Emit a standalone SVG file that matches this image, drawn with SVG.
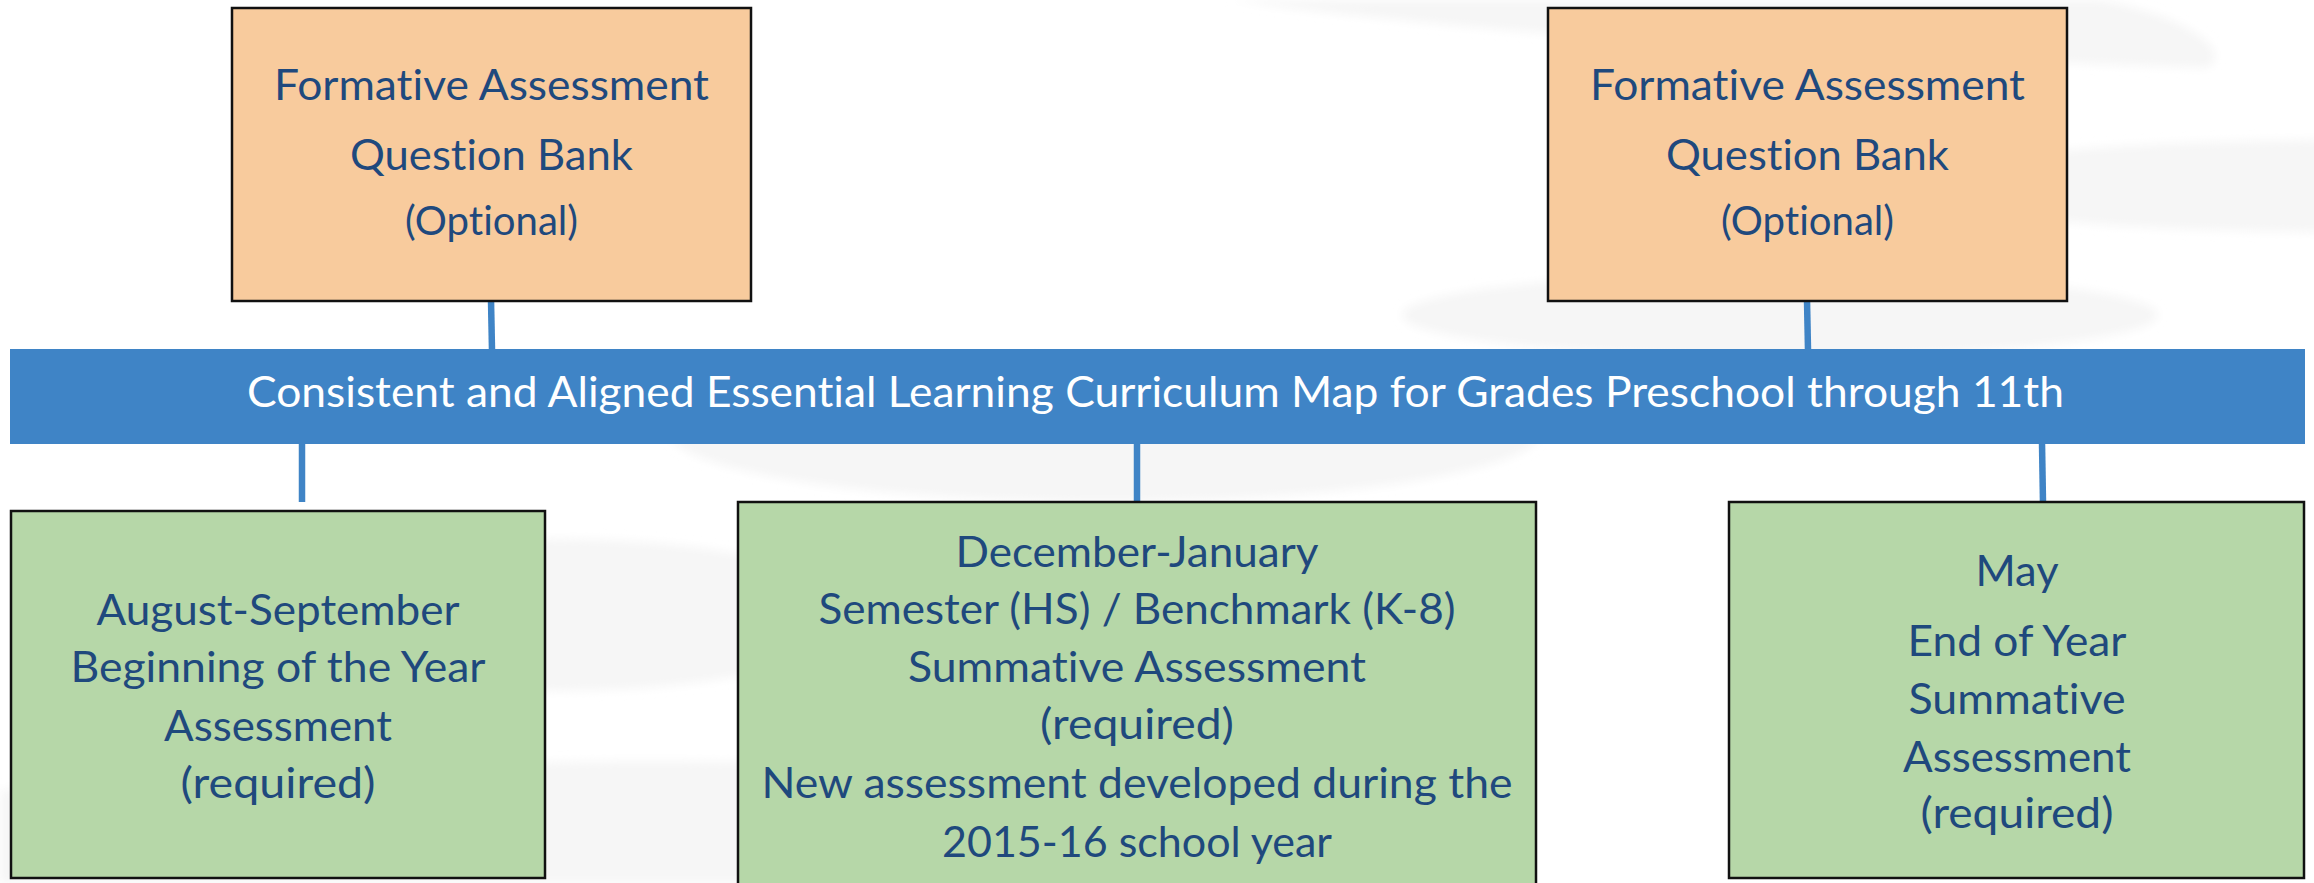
<svg xmlns="http://www.w3.org/2000/svg" width="2314" height="883" viewBox="0 0 2314 883">
  <defs>
    <filter id="soft" x="-10%" y="-30%" width="120%" height="160%">
      <feGaussianBlur stdDeviation="5"/>
    </filter>
  </defs>
  <style>
    .bg { fill: #f6f6f6; }
    .orange { fill: #f8cb9d; stroke: #111; stroke-width: 2.5; }
    .green { fill: #b6d7a8; stroke: #111; stroke-width: 2.5; }
    .bar { fill: #3f84c6; }
    .conn { stroke: #3f84c6; stroke-width: 6.5; fill: none; }
    .t { font-family: Lato, "Open Sans", "Liberation Sans", sans-serif; font-size: 43px; fill: #1f497d; text-anchor: middle; font-variant-ligatures: none; font-feature-settings: "liga" 0, "dlig" 0; }
    .small { font-size: 40px; }
    .w { fill: #ffffff; }
  </style>
  <rect x="0" y="0" width="2314" height="883" fill="#ffffff"/>
  <g id="background" filter="url(#soft)">
    <path class="bg" d="M1230,0 C1500,38 1900,58 2205,68 C2235,58 2200,18 2100,0 Z"/>
    <ellipse class="bg" cx="1780" cy="315" rx="378" ry="42"/>
    <ellipse class="bg" cx="2330" cy="186" rx="420" ry="46"/>
    <ellipse class="bg" cx="1105" cy="430" rx="438" ry="72"/>
    <ellipse class="bg" cx="560" cy="615" rx="300" ry="76"/>
    <path class="bg" d="M0,790 C200,770 500,758 760,762 L760,883 L0,883 Z"/>
  </g>
  <g id="connectors">
    <line class="conn" x1="491" y1="300" x2="492" y2="350"/>
    <line class="conn" x1="1807" y1="300" x2="1808" y2="350"/>
    <line class="conn" x1="302" y1="443" x2="302" y2="502"/>
    <line class="conn" x1="1137" y1="443" x2="1137" y2="503"/>
    <line class="conn" x1="2042" y1="443" x2="2043" y2="503"/>
  </g>
  <g id="node-formative-left">
    <rect class="orange" x="232" y="8" width="519" height="293"/>
    <text class="t" x="491.5" y="100" textLength="435" lengthAdjust="spacingAndGlyphs">Formative Assessment</text>
    <text class="t" x="491.5" y="170" textLength="283" lengthAdjust="spacingAndGlyphs">Question Bank</text>
    <text class="t small" x="491.5" y="235" textLength="173" lengthAdjust="spacingAndGlyphs">(Optional)</text>
  </g>
  <g id="node-formative-right">
    <rect class="orange" x="1548" y="8" width="519" height="293"/>
    <text class="t" x="1807.5" y="100" textLength="435" lengthAdjust="spacingAndGlyphs">Formative Assessment</text>
    <text class="t" x="1807.5" y="170" textLength="283" lengthAdjust="spacingAndGlyphs">Question Bank</text>
    <text class="t small" x="1807.5" y="235" textLength="173" lengthAdjust="spacingAndGlyphs">(Optional)</text>
  </g>
  <g id="node-curriculum-map">
    <rect class="bar" x="10" y="349" width="2295" height="95"/>
    <text class="t w" x="1155.5" y="407" textLength="1817" lengthAdjust="spacingAndGlyphs">Consistent and Aligned Essential Learning Curriculum Map for Grades Preschool through 11th</text>
  </g>
  <g id="node-august">
    <rect class="green" x="11" y="511" width="534" height="367"/>
    <text class="t" x="278" y="625" textLength="363" lengthAdjust="spacingAndGlyphs">August-September</text>
    <text class="t" x="278" y="682" textLength="415" lengthAdjust="spacingAndGlyphs">Beginning of the Year</text>
    <text class="t" x="278" y="741" textLength="228" lengthAdjust="spacingAndGlyphs">Assessment</text>
    <text class="t" x="278" y="798" textLength="195" lengthAdjust="spacingAndGlyphs">(required)</text>
  </g>
  <g id="node-december">
    <rect class="green" x="738" y="502" width="798" height="395"/>
    <text class="t" x="1137" y="567" textLength="363" lengthAdjust="spacingAndGlyphs">December-January</text>
    <text class="t" x="1137" y="624" textLength="637" lengthAdjust="spacingAndGlyphs">Semester (HS) / Benchmark (K-8)</text>
    <text class="t" x="1137" y="682" textLength="458" lengthAdjust="spacingAndGlyphs">Summative Assessment</text>
    <text class="t" x="1137" y="739" textLength="194" lengthAdjust="spacingAndGlyphs">(required)</text>
    <text class="t" x="1137" y="798" textLength="751" lengthAdjust="spacingAndGlyphs">New assessment developed during the</text>
    <text class="t" x="1137" y="857" textLength="390" lengthAdjust="spacingAndGlyphs">2015-16 school year</text>
  </g>
  <g id="node-may">
    <rect class="green" x="1729" y="502" width="575" height="376"/>
    <text class="t" x="2017" y="586" textLength="83" lengthAdjust="spacingAndGlyphs">May</text>
    <text class="t" x="2017" y="656" textLength="219" lengthAdjust="spacingAndGlyphs">End of Year</text>
    <text class="t" x="2017" y="714" textLength="217" lengthAdjust="spacingAndGlyphs">Summative</text>
    <text class="t" x="2017" y="772" textLength="228" lengthAdjust="spacingAndGlyphs">Assessment</text>
    <text class="t" x="2017" y="828" textLength="193" lengthAdjust="spacingAndGlyphs">(required)</text>
  </g>
</svg>
